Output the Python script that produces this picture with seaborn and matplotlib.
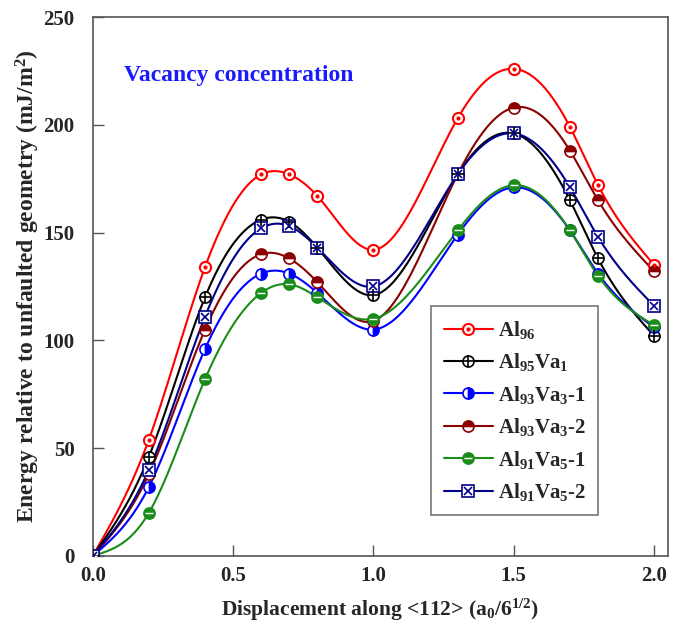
import numpy as np
import pandas as pd
import seaborn as sns
import matplotlib.pyplot as plt
from matplotlib.lines import Line2D
from matplotlib.legend_handler import HandlerTuple

# data
displacement = [0.0, 0.2, 0.4, 0.6, 0.7, 0.8, 1.0, 1.3, 1.5, 1.7, 1.8, 2.0]
al96 = [0, 54, 134, 177, 177, 167, 142, 203, 226, 199, 172, 135]
al95va1 = [0, 46, 120, 156, 155, 143, 121, 177, 196, 165, 138, 102]
al93va3_1 = [0, 32, 96, 131, 131, 122, 105, 149, 171, 151, 131, 106]
al93va3_2 = [0, 38, 105, 140, 138, 127, 109, 177, 208, 188, 165, 132]
al91va5_1 = [0, 20, 82, 122, 126, 120, 110, 151, 172, 151, 130, 107]
al91va5_2 = [0, 40, 111, 152, 153, 143, 125, 177, 196, 171, 148, 116]

labels = [r'Al$_{96}$', r'Al$_{95}$Va$_{1}$', r'Al$_{93}$Va$_{3}$-1',
          r'Al$_{93}$Va$_{3}$-2', r'Al$_{91}$Va$_{5}$-1', r'Al$_{91}$Va$_{5}$-2']
series = [al96, al95va1, al93va3_1, al93va3_2, al91va5_1, al91va5_2]
colors = ['#ff0000', '#000000', '#0000ff', '#8b0000', '#1a8c1a', '#00008b']


def natural_spline(x, y, n=400):
    # natural cubic spline just for drawing the smooth line through the points
    x = np.asarray(x, float)
    y = np.asarray(y, float)
    h = np.diff(x)
    m = len(x)
    A = np.zeros((m, m))
    b = np.zeros(m)
    A[0, 0] = A[-1, -1] = 1
    for i in range(1, m - 1):
        A[i, i - 1] = h[i - 1]
        A[i, i] = 2 * (h[i - 1] + h[i])
        A[i, i + 1] = h[i]
        b[i] = 6 * ((y[i + 1] - y[i]) / h[i] - (y[i] - y[i - 1]) / h[i - 1])
    M = np.linalg.solve(A, b)
    xs = np.linspace(x[0], x[-1], n)
    idx = np.clip(np.searchsorted(x, xs) - 1, 0, m - 2)
    x0, x1 = x[idx], x[idx + 1]
    hh = x1 - x0
    t0 = x1 - xs
    t1 = xs - x0
    ys = (M[idx] * t0 ** 3 / (6 * hh) + M[idx + 1] * t1 ** 3 / (6 * hh)
          + (y[idx] / hh - M[idx] * hh / 6) * t0
          + (y[idx + 1] / hh - M[idx + 1] * hh / 6) * t1)
    return xs, ys


sns.set_theme(style='ticks')
plt.rcParams['font.family'] = ['Liberation Serif', 'DejaVu Serif']
plt.rcParams['font.weight'] = 'bold'
plt.rcParams['mathtext.fontset'] = 'custom'
plt.rcParams['mathtext.rm'] = 'Liberation Serif:bold'
plt.rcParams['mathtext.it'] = 'Liberation Serif:bold'
plt.rcParams['mathtext.bf'] = 'Liberation Serif:bold'

fig = plt.figure(figsize=(6.77, 6.31), dpi=100)
ax = fig.add_axes([0.137, 0.119, 0.850, 0.854])

frames = []
for lab, vals in zip(labels, series):
    xs, ys = natural_spline(displacement, vals)
    frames.append(pd.DataFrame({'x': xs, 'y': ys, 'series': lab}))
curves = pd.concat(frames, ignore_index=True)

sns.lineplot(data=curves, x='x', y='y', hue='series', hue_order=labels,
             palette=colors, linewidth=1.5, legend=False, ax=ax, sort=False,
             estimator=None)

ms = 8
handles = []
for i, (lab, vals, c) in enumerate(zip(labels, series, colors)):
    if i == 0:
        base = dict(marker='o', mfc='white', mec=c, mew=1.5)
        over = dict(marker='.', color=c, ms=4)
    elif i == 1:
        base = dict(marker='o', mfc='white', mec=c, mew=1.2)
        over = dict(marker='+', color=c, ms=ms, mew=1.2)
    elif i == 2:
        base = dict(marker='o', mfc=c, mec=c, fillstyle='right',
                    markerfacecoloralt='white', mew=1.2)
        over = None
    elif i == 3:
        base = dict(marker='o', mfc=c, mec=c, fillstyle='top',
                    markerfacecoloralt='white', mew=1.2)
        over = None
    elif i == 4:
        base = dict(marker='o', mfc=c, mec=c, mew=1.2)
        over = dict(marker='_', color='white', ms=ms * 0.8, mew=1.0)
    else:
        base = dict(marker='s', mfc='white', mec=c, mew=1.2)
        over = dict(marker='x', color=c, ms=ms * 0.8, mew=1.2)
    ax.plot(displacement, vals, ls='none', ms=ms, zorder=3, **base)
    if over is not None:
        ax.plot(displacement, vals, ls='none', zorder=4, **over)
    h1 = Line2D([], [], color=c, lw=1.5, ms=ms, **base)
    if over is not None:
        h2 = Line2D([], [], ls='none', **over)
        handles.append((h1, h2))
    else:
        handles.append(h1)

leg = ax.legend(handles, labels, handler_map={tuple: HandlerTuple(ndivide=1)},
                loc='lower left', bbox_to_anchor=(0.588, 0.075), fontsize=15,
                frameon=True, fancybox=False, edgecolor='#555555',
                handlelength=2.35, labelspacing=0.5, borderpad=0.6,
                handletextpad=0.25, borderaxespad=0)
leg.get_frame().set_linewidth(1.2)

ax.text(0.055, 0.892, 'Vacancy concentration', transform=ax.transAxes,
        color='#1a1aff', fontsize=17, fontweight='bold', va='center')

ax.set_xlim(0, 2.05)
ax.set_ylim(0, 250)
ax.set_xticks([0.0, 0.5, 1.0, 1.5, 2.0])
ax.set_xticklabels(['0.0', '0.5', '1.0', '1.5', '2.0'])
ax.set_yticks([0, 50, 100, 150, 200, 250])
ax.tick_params(direction='in', length=8, width=1, labelsize=15,
               color='#555555', pad=7)
ax.tick_params(axis='y', pad=13)
for lab in ax.get_xticklabels() + ax.get_yticklabels():
    lab.set_fontweight('bold')
for sp in ax.spines.values():
    sp.set_visible(True)
    sp.set_color('#555555')
    sp.set_linewidth(1.2)

ax.set_xlabel(r'Displacement along <112> (a$_0$/6$^{1/2}$)', fontsize=15.5,
              fontweight='bold', labelpad=8)
ax.set_ylabel(r'Energy relative to unfaulted geometry (mJ/m$^2$)', fontsize=17,
              fontweight='bold', labelpad=1)

fig.savefig('out.png', dpi=100)
